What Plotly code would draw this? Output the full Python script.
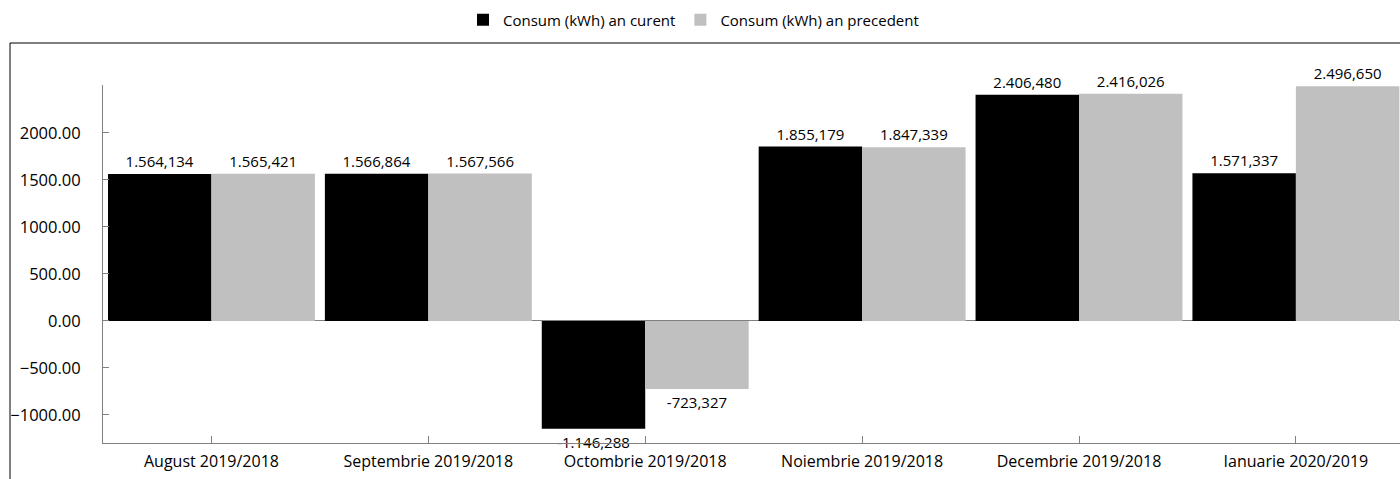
import plotly.graph_objects as go

categories = ["August 2019/2018", "Septembrie 2019/2018", "Octombrie 2019/2018",
              "Noiembrie 2019/2018", "Decembrie 2019/2018", "Ianuarie 2020/2019"]
current = [1564.134, 1566.864, -1146.288, 1855.179, 2406.480, 1571.337]
previous = [1565.421, 1567.566, -723.327, 1847.339, 2416.026, 2496.650]
series_names = ["Consum (kWh) an curent", "Consum (kWh) an precedent"]
y_ticks = [-1000, -500, 0, 500, 1000, 1500, 2000]


def fmt(v):
    s = f"{v:,.3f}"
    return s.replace(",", "#").replace(".", ",").replace("#", ".")


FONT = "Open Sans, Noto Sans, sans-serif"

fig = go.Figure()
for name, vals, col in [(series_names[0], current, "#000000"),
                        (series_names[1], previous, "#C0C0C0")]:
    fig.add_trace(go.Bar(
        x=categories, y=vals, name=name, marker=dict(color=col, line=dict(width=0)),
        text=[fmt(v) for v in vals], textposition="outside", cliponaxis=False,
        constraintext="none", textfont=dict(color="#000000", size=15, family=FONT),
        hoverinfo="x+y",
    ))

W, H = 1400, 479
L, R, T, B = 103, 0, 85, 36
pw, ph = W - L - R, H - T - B


def px(x):
    return (x - L) / pw


def py(y):
    return (H - B - y) / ph


fig.update_layout(
    width=W, height=H,
    margin=dict(l=L, r=R, t=T, b=B, pad=0),
    paper_bgcolor="white", plot_bgcolor="white",
    barmode="group", bargap=0.046, bargroupgap=0,
    font=dict(family=FONT, size=15, color="#000000"),
    showlegend=True,
    legend=dict(orientation="h", x=px(463), xanchor="left", y=py(20), yanchor="middle",
                font=dict(size=15), itemwidth=30, traceorder="normal",
                itemsizing="constant"),
    xaxis=dict(range=[-0.5, 5.48], showline=True, linecolor="#808080", linewidth=1,
               ticks="inside", ticklen=7, tickcolor="#808080", showgrid=False,
               tickfont=dict(size=16), zeroline=False, ticklabelstandoff=4),
    yaxis=dict(range=[-1298, 2510], showline=True, linecolor="#808080", linewidth=1,
               ticks="inside", ticklen=6, tickcolor="#808080", showgrid=False,
               tickvals=y_ticks, tickformat=".2f", tickfont=dict(size=16.5),
               zeroline=True, zerolinecolor="#808080", zerolinewidth=1,
               ticklabelstandoff=18),
    shapes=[dict(type="rect", xref="paper", yref="paper",
                 x0=px(10), x1=px(1410), y0=py(490), y1=py(43),
                 line=dict(color="#000000", width=1), fillcolor="rgba(0,0,0,0)",
                 layer="below")],
)

fig.write_html("out.html", config={"displayModeBar": False},
               post_script="document.body.style.margin='0';document.body.style.overflow='hidden';")
